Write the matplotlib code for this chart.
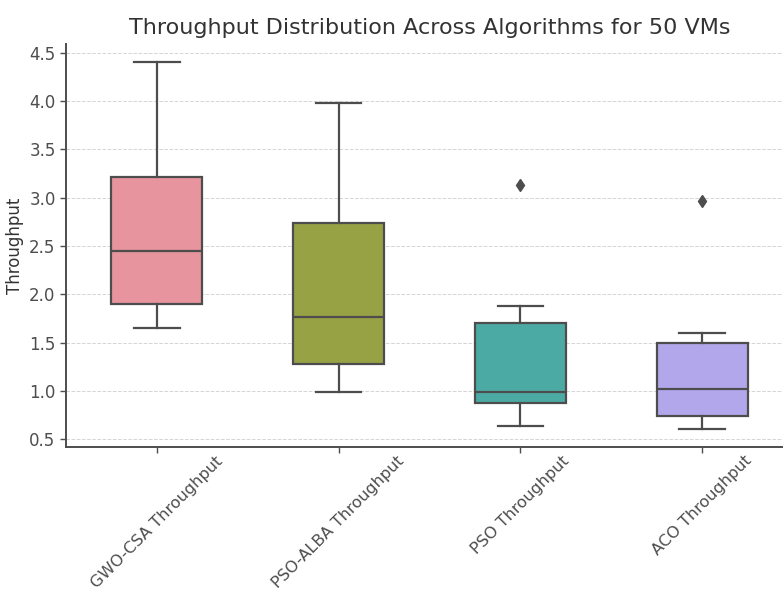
import matplotlib.pyplot as plt

# ── data (box statistics per algorithm) ──────────────────────────────────────
labels = ['GWO-CSA Throughput', 'PSO-ALBA Throughput', 'PSO Throughput', 'ACO Throughput']
whislo = [1.65, 0.99, 0.635, 0.61]
q1 = [1.90, 1.275, 0.876, 0.737]
medians = [2.45, 1.77, 0.993, 1.024]
q3 = [3.21, 2.742, 1.70, 1.50]
whishi = [4.40, 3.98, 1.883, 1.60]
fliers = [[], [], [3.134], [2.965]]

box_colors = ['#e8949f', '#97a245', '#4caaa4', '#b3a7eb']
edge = '#4d4d4d'
text_c = '#333333'

stats = []
for i, lab in enumerate(labels):
    stats.append(dict(label=lab, whislo=whislo[i], q1=q1[i], med=medians[i],
                      q3=q3[i], whishi=whishi[i], fliers=fliers[i]))

fig = plt.figure(figsize=(7.83, 5.92), dpi=100)
ax = fig.add_axes([66 / 783, 145 / 592, 727 / 783, 403 / 592])

bp = ax.bxp(stats, positions=range(len(labels)), widths=0.5, patch_artist=True,
            showfliers=True, capwidths=0.25,
            boxprops=dict(edgecolor=edge, linewidth=1.6),
            medianprops=dict(color=edge, linewidth=1.6),
            whiskerprops=dict(color=edge, linewidth=1.6),
            capprops=dict(color=edge, linewidth=1.6),
            flierprops=dict(marker='d', markerfacecolor=edge, markeredgecolor=edge,
                            markersize=6))
for patch, c in zip(bp['boxes'], box_colors):
    patch.set_facecolor(c)

ax.set_xlim(-0.5, len(labels) - 0.5)
ax.margins(y=0.05)
ax.set_yticks([0.5, 1.0, 1.5, 2.0, 2.5, 3.0, 3.5, 4.0, 4.5])
ax.yaxis.grid(True, linestyle='--', color='#d5d5d5', linewidth=0.7)
ax.set_axisbelow(True)

ax.set_xticks(range(len(labels)))
ax.set_xticklabels(labels, rotation=45, fontsize=11.6, color=text_c)
ax.tick_params(axis='y', labelsize=12, labelcolor=text_c)
ax.tick_params(colors=edge, length=4, width=1)
ax.tick_params(axis='x', pad=0.5)
ax.set_ylabel('Throughput', fontsize=12, color=text_c)
ax.set_title('Throughput Distribution Across Algorithms for 50 VMs',
             fontsize=16, color=text_c, pad=7)

for s in ['top', 'right']:
    ax.spines[s].set_visible(False)
for s in ['left', 'bottom']:
    ax.spines[s].set_color(edge)
    ax.spines[s].set_linewidth(1.4)

plt.savefig('out.png', dpi=100)
